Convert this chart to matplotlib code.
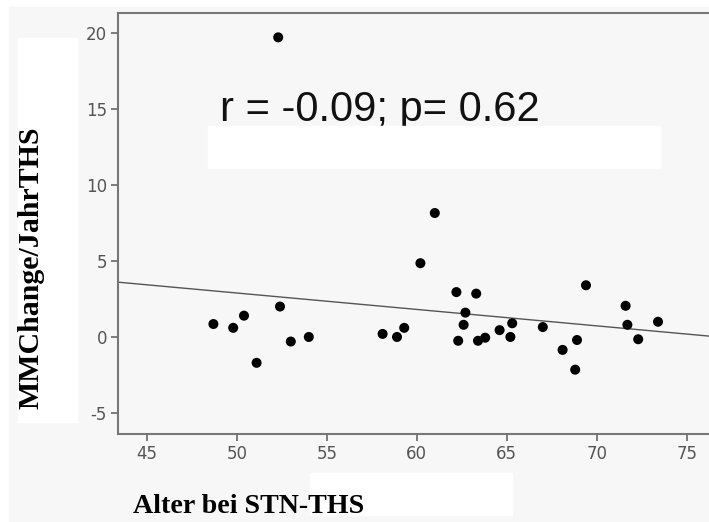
import numpy as np
import matplotlib.pyplot as plt
from matplotlib.patches import Rectangle

plt.rcParams['axes.unicode_minus'] = False

# Alter bei STN-THS vs. MMChange/JahrTHS
alter = [48.7, 49.8, 50.4, 51.1, 52.3, 52.4, 53.0, 54.0,
         58.1, 58.9, 59.3, 60.2, 61.0, 62.2, 62.3, 62.6, 62.7,
         63.3, 63.4, 63.8, 64.6, 65.2, 65.3, 67.0, 68.1, 68.8,
         68.9, 69.4, 71.6, 71.7, 72.3, 73.4]
mmchange = [0.85, 0.6, 1.4, -1.7, 19.7, 2.0, -0.3, 0.0,
            0.2, 0.0, 0.6, 4.85, 8.15, 2.95, -0.25, 0.8, 1.6,
            2.85, -0.25, -0.05, 0.45, 0.0, 0.9, 0.65, -0.85, -2.15,
            -0.2, 3.4, 2.05, 0.8, -0.15, 1.0]

# fit line as drawn in the figure
fit_slope = -0.108
fit_intercept = 8.29

xticks = [45, 50, 55, 60, 65, 70, 75]
yticks = [-5, 0, 5, 10, 15, 20]

W, H = 709, 522
fig = plt.figure(figsize=(W / 100, H / 100), dpi=100, facecolor='white')

# light grey backdrop
fig.patches.append(Rectangle((9 / W, 1 - 521 / H), 700 / W, 514 / H,
                             transform=fig.transFigure, color='#f7f7f7', zorder=-5))

x0, x1 = 43.4, 77.0
y0, y1 = -6.38, 21.3
left, top, bottom = 118, 13, 434
right = left + (x1 - x0) * 18
ax = fig.add_axes([left / W, 1 - bottom / H, (right - left) / W, (bottom - top) / H])
ax.set_facecolor('#f7f7f7')
ax.set_xlim(x0, x1)
ax.set_ylim(y0, y1)

xs = np.array([x0, x1])
ax.plot(xs, fit_intercept + fit_slope * xs, color='#555555', lw=1.0, zorder=2)
ax.scatter(alter, mmchange, s=52, color='black', edgecolors='none', zorder=3)

ax.set_xticks(xticks)
ax.set_yticks(yticks)
ax.tick_params(direction='out', length=5, width=1.2, color='#666666',
               labelcolor='#555555', labelsize=12, pad=3)
for s in ['left', 'bottom', 'top']:
    ax.spines[s].set_color('#777777')
    ax.spines[s].set_linewidth(1.5)
ax.spines['right'].set_visible(False)

fig.text(220 / W, 1 - 121 / H, 'r = -0.09; p= 0.62', fontsize=30,
         family='Liberation Sans', color='#111111', va='baseline', zorder=6)

# white boxes from the original image
for bx, by, bw, bh in [(18, 38, 59, 384), (208, 126, 452, 42), (310, 473, 202, 42)]:
    fig.patches.append(Rectangle((bx / W, 1 - (by + bh) / H), bw / W, bh / H,
                                 transform=fig.transFigure, color='white', zorder=7))

fig.text(31 / W, 1 - 268 / H, 'MMChange/JahrTHS', fontsize=21.5, rotation=90,
         family='Liberation Serif', weight='bold', ha='center', va='center', zorder=8)
fig.text(133 / W, 1 - 513 / H, 'Alter bei STN-THS', fontsize=20.2,
         family='Liberation Serif', weight='bold', ha='left', va='baseline', zorder=8)

fig.savefig('out.png', dpi=100, facecolor='white')
